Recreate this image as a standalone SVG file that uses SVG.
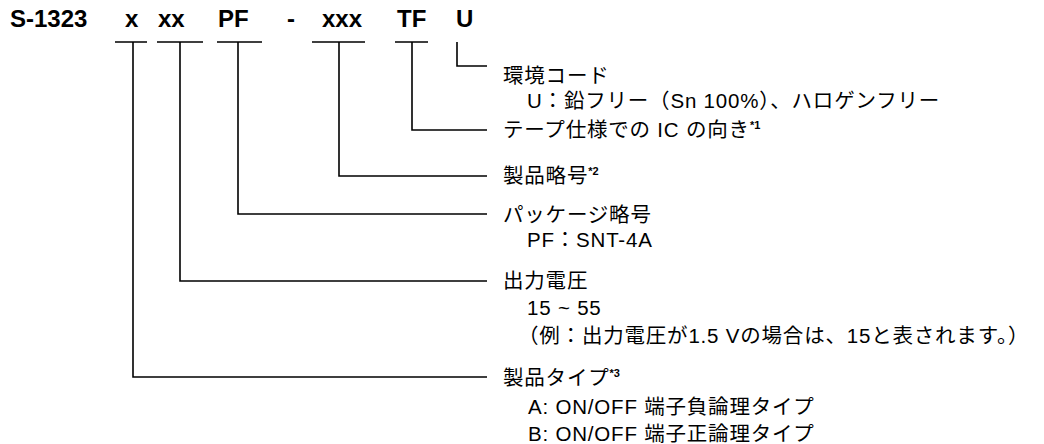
<svg xmlns="http://www.w3.org/2000/svg" width="1044" height="444" viewBox="0 0 1044 444">
<style>
.t{font-family:"Liberation Sans","Noto Sans CJK JP",sans-serif;font-size:20.5px;letter-spacing:0.8px;fill:#000}
.h{font-family:"Liberation Sans",Arial,sans-serif;font-size:24px;font-weight:bold;fill:#000}
.sup{font-size:11px;font-weight:bold;letter-spacing:0}
.ln{fill:none;stroke:#000;stroke-width:1.6}
</style>
<rect width="1044" height="444" fill="#fff"/>
<g id="title">
<text class="h" x="10" y="27">S-1323</text>
<text class="h" x="125" y="27">x</text>
<text class="h" x="158" y="27">xx</text>
<text class="h" x="218" y="27">PF</text>
<text class="h" x="287" y="27">-</text>
<text class="h" x="322" y="27">xxx</text>
<text class="h" x="397" y="27">TF</text>
<text class="h" x="456" y="27">U</text>
</g>
<g id="connectors">
<path class="ln" d="M115 42H147M157 42H203M217 42H262M312 42H365M395 42H428"/>
<path class="ln" d="M457 42V66H487"/>
<path class="ln" d="M412 42V130H487"/>
<path class="ln" d="M339 42V176H487"/>
<path class="ln" d="M238 42V214H487"/>
<path class="ln" d="M180 42V281H487"/>
<path class="ln" d="M133 42V377H487"/>
</g>
<g id="env">
<text class="t" x="503" y="83">環境コード</text>
<text class="t" x="527" y="108">U：鉛フリー（Sn 100%）、ハロゲンフリー</text>
</g>
<g id="tape">
<text class="t" x="503" y="137">テープ仕様での IC の向き<tspan class="sup" dy="-8">*1</tspan></text>
</g>
<g id="product-code">
<text class="t" x="503" y="183">製品略号<tspan class="sup" dy="-8">*2</tspan></text>
</g>
<g id="package">
<text class="t" x="503" y="222">パッケージ略号</text>
<text class="t" x="527" y="247">PF：SNT-4A</text>
</g>
<g id="voltage">
<text class="t" x="503" y="288">出力電圧</text>
<text class="t" x="527" y="315">15 ~ 55</text>
<text class="t" x="518" y="343">（例：出力電圧が1.5 Vの場合は、15と表されます。）</text>
</g>
<g id="type">
<text class="t" x="503" y="385">製品タイプ<tspan class="sup" dy="-8">*3</tspan></text>
<text class="t" x="528" y="414">A: ON/OFF 端子負論理タイプ</text>
<text class="t" x="528" y="441">B: ON/OFF 端子正論理タイプ</text>
</g>
</svg>
